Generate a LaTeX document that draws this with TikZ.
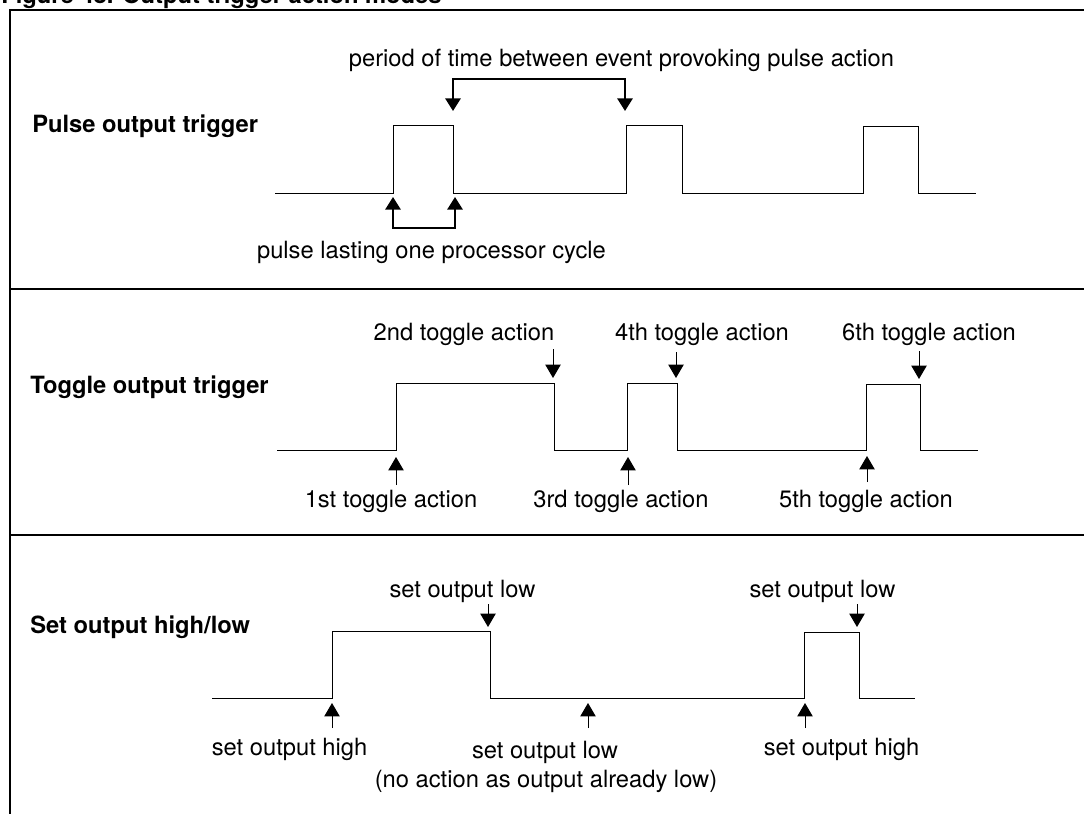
\documentclass[tikz,border=0pt]{standalone}
\usepackage{fontspec}
\setmainfont{TeX Gyre Heros}
\usetikzlibrary{arrows.meta}
\begin{document}
\begin{tikzpicture}[x=0.75pt,y=-0.75pt,
  wave/.style={line width=0.75pt, line join=miter},
  frameline/.style={line width=1.5pt},
  bracket/.style={line width=1.5pt, {Triangle[width=11.5pt,length=9.5pt]}-{Triangle[width=11.5pt,length=9.5pt]}},
  ptr/.style={line width=0.75pt, -{Triangle[width=11.5pt,length=10pt]}},
  lbl/.style={font=\fontsize{17.8}{21}\selectfont, inner sep=0pt, anchor=base},
  head/.style={font=\fontsize{17.8}{21}\selectfont\bfseries, inner sep=0pt, anchor=base west}]
\useasboundingbox (0,0) rectangle (1084,813);

% title (cut off at the top of the picture, as in the reference)
\node[head] (title) at (1,4) {Figure 48. Output trigger action modes};

% frame and separators
\draw[frameline] (1095,10) -- (10,10) -- (10,825);
\draw[frameline] (10,289) -- (1095,289);
\draw[frameline] (10,535) -- (1095,535);

% ---------------- Pulse output trigger ----------------
\node[head] (hpulse) at (32,133) {Pulse output trigger};
\draw[wave] (275,193) -| (393,126) -| (453,193) -| (626,126) -| (682,193) -| (863,127) -| (918,193) -- (976,193);
\node[lbl] (period) at (621.5,67) {period of time between event provoking pulse action};
\node[lbl] (cycle) at (431.5,258) {pulse lasting one processor cycle};
\coordinate (pa1) at (453,111); \coordinate (pa2) at (625,111);
\draw[bracket] (pa1) -- (453,79) -- (625,79) -- (pa2);
\coordinate (pb1) at (393,197); \coordinate (pb2) at (455,197);
\draw[bracket] (pb1) -- (393,228) -- (455,228) -- (pb2);

% ---------------- Toggle output trigger ----------------
\node[head] (htoggle) at (30,393) {Toggle output trigger};
\draw[wave] (277,450) -| (396,383) -| (554,450) -| (627,383) -| (677,450) -| (866,384) -| (920,450) -- (978,450);
\node[lbl] (t2) at (464,340) {2nd toggle action};
\node[lbl] (t4) at (702,340) {4th toggle action};
\node[lbl] (t6) at (929,340) {6th toggle action};
\node[lbl] (t1) at (391,507) {1st toggle action};
\node[lbl] (t3) at (621,507) {3rd toggle action};
\node[lbl] (t5) at (866,507) {5th toggle action};
\draw[ptr] (553,349) -- (553,378);
\draw[ptr] (676,352) -- (676,378);
\draw[ptr] (919,351) -- (919,379);
\draw[ptr] (396,485) -- (396,457);
\draw[ptr] (628,485) -- (628,457);
\draw[ptr] (867,482) -- (867,456);

% ---------------- Set output high/low ----------------
\node[head] (hset) at (30,633) {Set output high/low};
\draw[wave] (212,698) -| (332,631) -| (490,698) -| (804,632) -| (859,698) -- (915,698);
\node[lbl] (s1) at (462.5,597) {set output low};
\node[lbl] (s2) at (822.5,597) {set output low};
\node[lbl] (s3) at (289.6,755) {set output high};
\node[lbl] (s4) at (545,758) {set output low};
\node[lbl] (s5) at (546,787) {(no action as output already low)};
\node[lbl] (s6) at (841.5,755) {set output high};
\draw[ptr] (488,604) -- (488,627);
\draw[ptr] (857,604) -- (857,627);
\draw[ptr] (332,728) -- (332,703);
\draw[ptr] (588,728) -- (588,703);
\draw[ptr] (805,728) -- (805,703);
\end{tikzpicture}
\end{document}
